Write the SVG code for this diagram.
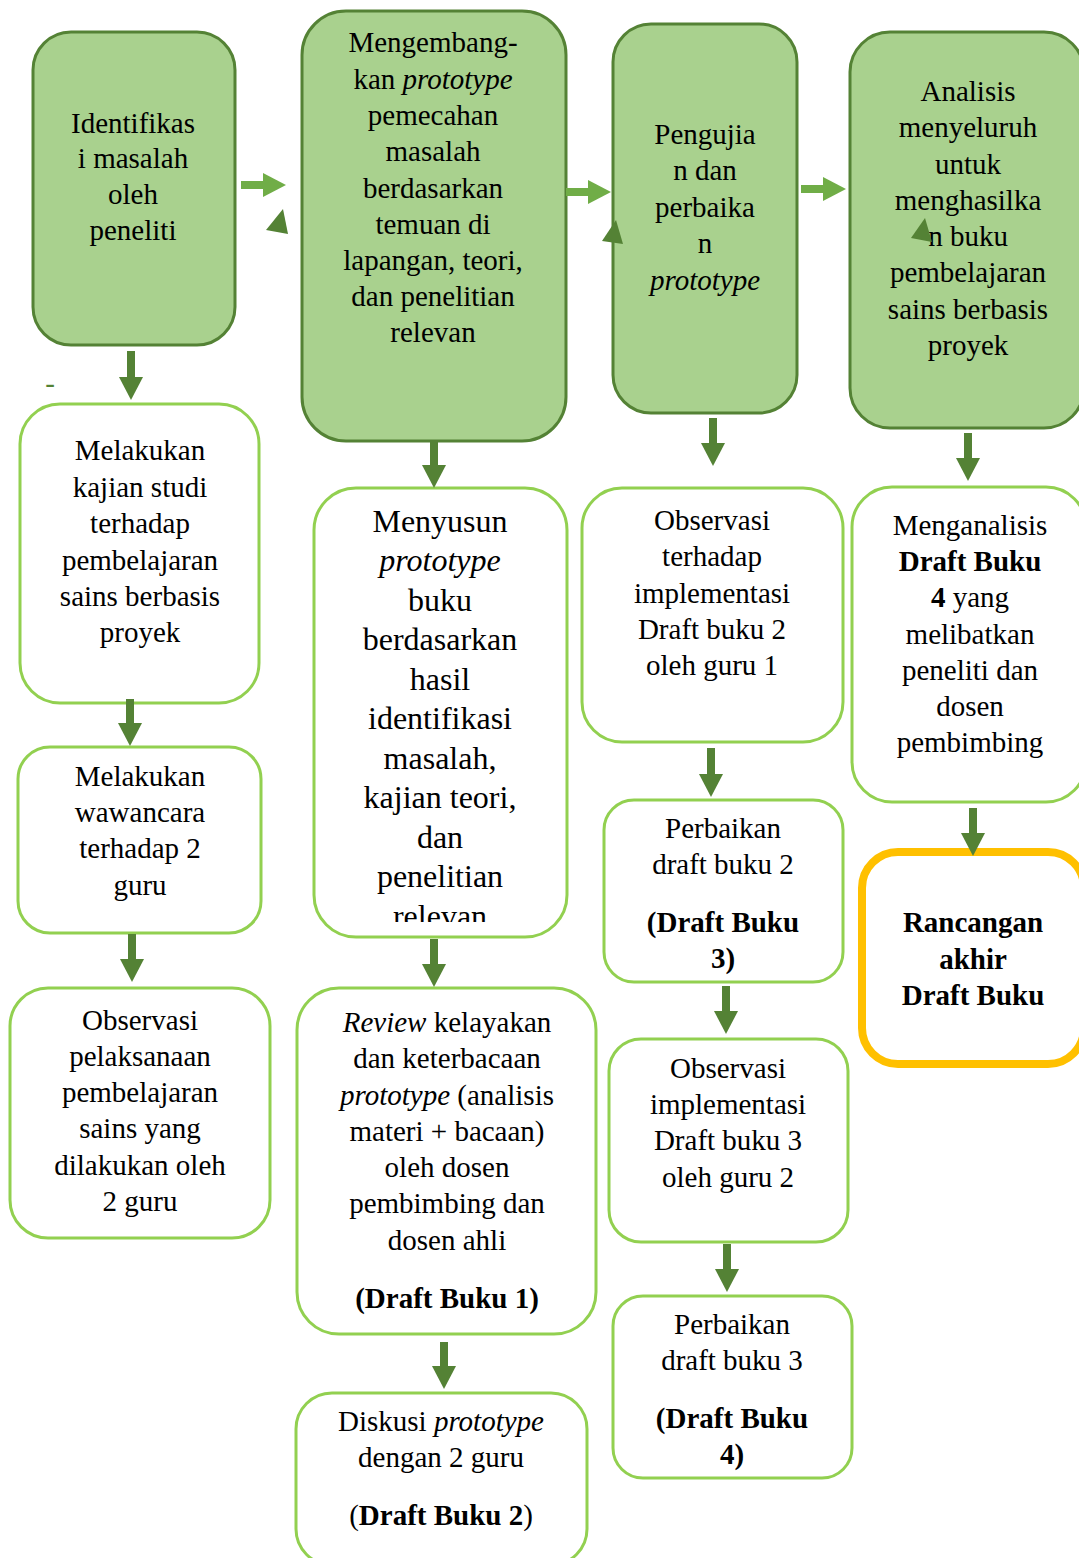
<svg xmlns="http://www.w3.org/2000/svg" width="1079" height="1558" viewBox="0 0 1079 1558">
<style>
.g{fill:#A9D18E;stroke:#548235;stroke-width:3}
.w{fill:#FFFFFF;stroke:#92D050;stroke-width:3}
.o{fill:#FFFFFF;stroke:#FFC000;stroke-width:8}
text{font-family:"Liberation Serif","Times New Roman",serif;font-size:29px;fill:#000;text-anchor:middle}
.big{font-size:32px}
.i{font-style:italic}
.b{font-weight:bold}
.dn{stroke:#548235;stroke-width:8;fill:none;marker-end:url(#hd)}
.rt{stroke:#70AD47;stroke-width:8;fill:none;marker-end:url(#hl)}
.tri{fill:#548235}
</style>
<defs>
<marker id="hd" markerUnits="userSpaceOnUse" markerWidth="23" markerHeight="24" refX="0" refY="12" orient="auto"><path d="M0,0 L23,12 L0,24 z" fill="#548235"/></marker>
<marker id="hl" markerUnits="userSpaceOnUse" markerWidth="23" markerHeight="24" refX="0" refY="12" orient="auto"><path d="M0,0 L23,12 L0,24 z" fill="#70AD47"/></marker>
<clipPath id="c8"><rect x="300" y="480" width="280" height="442"/></clipPath>
</defs>

<text x="50" y="393" style="fill:#548235">-</text>

<g id="n1">
<rect class="g" x="33" y="32" width="202" height="313" rx="38"/>
<text x="133" y="133">Identifikas</text>
<text x="133" y="168">i masalah</text>
<text x="133" y="204">oleh</text>
<text x="133" y="240">peneliti</text>
</g>

<g id="n2">
<rect class="g" x="302" y="11" width="264" height="430" rx="44"/>
<text x="433" y="52">Mengembang-</text>
<text x="433" y="89">kan <tspan class="i">prototype</tspan></text>
<text x="433" y="125">pemecahan</text>
<text x="433" y="161">masalah</text>
<text x="433" y="198">berdasarkan</text>
<text x="433" y="234">temuan di</text>
<text x="433" y="270">lapangan, teori,</text>
<text x="433" y="306">dan penelitian</text>
<text x="433" y="342">relevan</text>
</g>

<g id="n3">
<rect class="g" x="613" y="24" width="184" height="389" rx="38"/>
<text x="705" y="144">Pengujia</text>
<text x="705" y="180">n dan</text>
<text x="705" y="217">perbaika</text>
<text x="705" y="253">n</text>
<text x="705" y="290" class="i">prototype</text>
</g>

<g id="n4">
<rect class="g" x="850" y="32" width="234" height="396" rx="40"/>
<text x="968" y="101">Analisis</text>
<text x="968" y="137">menyeluruh</text>
<text x="968" y="174">untuk</text>
<text x="968" y="210">menghasilka</text>
<text x="968" y="246">n buku</text>
<text x="968" y="282">pembelajaran</text>
<text x="968" y="319">sains berbasis</text>
<text x="968" y="355">proyek</text>
</g>

<g id="n5">
<rect class="w" x="20" y="404" width="239" height="299" rx="40"/>
<text x="140" y="460">Melakukan</text>
<text x="140" y="497">kajian studi</text>
<text x="140" y="533">terhadap</text>
<text x="140" y="570">pembelajaran</text>
<text x="140" y="606">sains berbasis</text>
<text x="140" y="642">proyek</text>
</g>

<g id="n6">
<rect class="w" x="18" y="747" width="243" height="186" rx="32"/>
<text x="140" y="786">Melakukan</text>
<text x="140" y="822">wawancara</text>
<text x="140" y="858">terhadap 2</text>
<text x="140" y="895">guru</text>
</g>

<g id="n7">
<rect class="w" x="10" y="988" width="260" height="250" rx="38"/>
<text x="140" y="1030">Observasi</text>
<text x="140" y="1066">pelaksanaan</text>
<text x="140" y="1102">pembelajaran</text>
<text x="140" y="1138">sains yang</text>
<text x="140" y="1175">dilakukan oleh</text>
<text x="140" y="1211">2 guru</text>
</g>

<g id="n8">
<rect class="w" x="314" y="488" width="253" height="449" rx="42"/>
<g clip-path="url(#c8)">
<text class="big" x="440" y="532">Menyusun</text>
<text class="big i" x="440" y="571">prototype</text>
<text class="big" x="440" y="611">buku</text>
<text class="big" x="440" y="650">berdasarkan</text>
<text class="big" x="440" y="690">hasil</text>
<text class="big" x="440" y="729">identifikasi</text>
<text class="big" x="440" y="769">masalah,</text>
<text class="big" x="440" y="808">kajian teori,</text>
<text class="big" x="440" y="848">dan</text>
<text class="big" x="440" y="887">penelitian</text>
<text class="big" x="440" y="927">relevan</text>
</g>
</g>

<g id="n9">
<rect class="w" x="297" y="988" width="299" height="346" rx="42"/>
<text x="447" y="1032"><tspan class="i">Review</tspan> kelayakan</text>
<text x="447" y="1068">dan keterbacaan</text>
<text x="447" y="1105"><tspan class="i">prototype</tspan> (analisis</text>
<text x="447" y="1141">materi + bacaan)</text>
<text x="447" y="1177">oleh dosen</text>
<text x="447" y="1213">pembimbing dan</text>
<text x="447" y="1250">dosen ahli</text>
<text x="447" y="1308" class="b">(Draft Buku 1)</text>
</g>

<g id="n10">
<rect class="w" x="296" y="1393" width="291" height="172" rx="36"/>
<text x="441" y="1431">Diskusi <tspan class="i">prototype</tspan></text>
<text x="441" y="1467">dengan 2 guru</text>
<text x="441" y="1525">(<tspan class="b">Draft Buku 2</tspan>)</text>
</g>

<g id="n11">
<rect class="w" x="582" y="488" width="261" height="254" rx="40"/>
<text x="712" y="530">Observasi</text>
<text x="712" y="566">terhadap</text>
<text x="712" y="603">implementasi</text>
<text x="712" y="639">Draft buku 2</text>
<text x="712" y="675">oleh guru 1</text>
</g>

<g id="n12">
<rect class="w" x="604" y="800" width="239" height="182" rx="30"/>
<text x="723" y="838">Perbaikan</text>
<text x="723" y="874">draft buku 2</text>
<text x="723" y="932" class="b">(Draft Buku</text>
<text x="723" y="968" class="b">3)</text>
</g>

<g id="n13">
<rect class="w" x="609" y="1039" width="239" height="203" rx="32"/>
<text x="728" y="1078">Observasi</text>
<text x="728" y="1114">implementasi</text>
<text x="728" y="1150">Draft buku 3</text>
<text x="728" y="1187">oleh guru 2</text>
</g>

<g id="n14">
<rect class="w" x="613" y="1296" width="239" height="182" rx="30"/>
<text x="732" y="1334">Perbaikan</text>
<text x="732" y="1370">draft buku 3</text>
<text x="732" y="1428" class="b">(Draft Buku</text>
<text x="732" y="1464" class="b">4)</text>
</g>

<g id="n15">
<rect class="w" x="852" y="487" width="234" height="315" rx="40"/>
<text x="970" y="535">Menganalisis</text>
<text x="970" y="571" class="b">Draft Buku</text>
<text x="970" y="607"><tspan class="b">4</tspan> yang</text>
<text x="970" y="644">melibatkan</text>
<text x="970" y="680">peneliti dan</text>
<text x="970" y="716">dosen</text>
<text x="970" y="752">pembimbing</text>
</g>

<g id="n16">
<rect class="o" x="862" y="852" width="222" height="212" rx="36"/>
<text x="973" y="932" class="b">Rancangan</text>
<text x="973" y="969" class="b">akhir</text>
<text x="973" y="1005" class="b">Draft Buku</text>
</g>

<g id="connectors">
<line class="dn" x1="131" y1="351" x2="131" y2="377"/>
<line class="dn" x1="130" y1="699" x2="130" y2="723"/>
<line class="dn" x1="132" y1="934" x2="132" y2="959"/>
<line class="dn" x1="434" y1="441" x2="434" y2="465"/>
<line class="dn" x1="434" y1="939" x2="434" y2="964"/>
<line class="dn" x1="444" y1="1342" x2="444" y2="1366"/>
<line class="dn" x1="713" y1="418" x2="713" y2="443"/>
<line class="dn" x1="711" y1="748" x2="711" y2="774"/>
<line class="dn" x1="726" y1="986" x2="726" y2="1011"/>
<line class="dn" x1="727" y1="1244" x2="727" y2="1269"/>
<line class="dn" x1="968" y1="433" x2="968" y2="458"/>
<line class="dn" x1="973" y1="808" x2="973" y2="833"/>
<line class="rt" x1="241" y1="185" x2="263" y2="185"/>
<line class="rt" x1="566" y1="192" x2="588" y2="192"/>
<line class="rt" x1="801" y1="189" x2="823" y2="189"/>
<polygon class="tri" points="266,230 283,209 288,234"/>
<polygon class="tri" points="602,241 616,220 623,244"/>
<polygon class="tri" points="911,238 925,218 932,242"/>
</g>
</svg>
